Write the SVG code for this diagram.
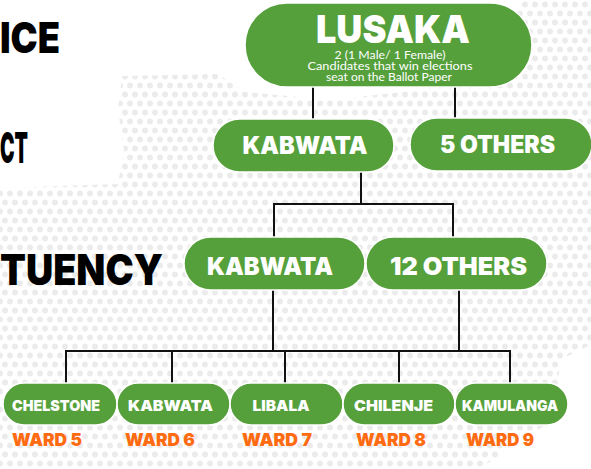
<svg xmlns="http://www.w3.org/2000/svg" width="591" height="469" viewBox="0 0 591 469">
<style>
.node{fill:#55a03b;stroke:#ffffff;stroke-width:1.5}
.t{font-family:Inter,Lato,"Liberation Sans",sans-serif;font-weight:900;fill:#ffffff;text-anchor:middle}
.sub{font-family:Lato,"Liberation Sans",sans-serif;font-weight:400;font-size:11.5px;fill:#ffffff;text-anchor:middle}
.lvl{font-family:Inter,Lato,"Liberation Sans",sans-serif;font-weight:900;font-size:42px;fill:#000000;text-anchor:end}
.ward{font-family:Inter,Lato,"Liberation Sans",sans-serif;font-weight:900;font-size:18px;fill:#ff6b11;text-anchor:middle}
.wt{font-size:15px}
.conn{fill:none;stroke:#111111;stroke-width:2}
</style>
<defs>
<pattern id="dots" width="10" height="18" patternUnits="userSpaceOnUse">
<circle cx="5" cy="4.5" r="2.9" fill="#ebebeb"/>
<circle cx="0" cy="13.5" r="2.9" fill="#ebebeb"/>
<circle cx="10" cy="13.5" r="2.9" fill="#ebebeb"/>
</pattern>
</defs>
<rect width="591" height="469" fill="#ffffff"/>
<g id="background">
<path fill="url(#dots)" d="M122,76 L218,74 L245,92 L330,100 L420,90 L480,50 L525,0 L591,0 L591,345 L560,360 L555,420 L520,440 L480,469 L0,469 L0,188 L118,184 L124,150 L118,110 Z"/>
</g>
<g id="level-labels">
<text class="lvl" x="60" y="53" textLength="60" lengthAdjust="spacingAndGlyphs">ICE</text>
<text class="lvl" x="28" y="163" textLength="28" lengthAdjust="spacingAndGlyphs">CT</text>
<text class="lvl" x="163" y="285" textLength="163" lengthAdjust="spacingAndGlyphs">TUENCY</text>
</g>
<g id="connectors">
<path class="conn" d="M313,87 V119 M455,87 V118"/>
<path class="conn" d="M361,172 V204 M274,204 H453 M274,203 V237 M453,203 V237"/>
<path class="conn" d="M273,290 V351 M459,290 V351 M66,351 H510 M66,350 V383 M172,350 V383 M285,350 V383 M399,350 V383 M510,350 V383"/>
</g>
<g id="node-lusaka">
<rect class="node" x="245" y="3" width="287" height="84" rx="42"/>
<text class="t" x="393" y="43" font-size="39" textLength="154" lengthAdjust="spacingAndGlyphs">LUSAKA</text>
<text class="sub"><tspan x="390" y="59" textLength="111" lengthAdjust="spacingAndGlyphs">2 (1 Male/ 1 Female)</tspan><tspan x="390" y="69.5" textLength="165" lengthAdjust="spacingAndGlyphs">Candidates that win elections</tspan><tspan x="389" y="80.5" textLength="126" lengthAdjust="spacingAndGlyphs">seat on the Ballot Paper</tspan></text>
</g>
<g id="node-district-kabwata">
<rect class="node" x="213" y="119" width="181" height="53" rx="26.5"/>
<text class="t" x="305" y="154" font-size="24" textLength="125" lengthAdjust="spacingAndGlyphs">KABWATA</text>
</g>
<g id="node-5-others">
<rect class="node" x="410" y="118" width="182" height="53" rx="26.5"/>
<text class="t" x="497.5" y="153" font-size="24" textLength="115" lengthAdjust="spacingAndGlyphs">5 OTHERS</text>
</g>
<g id="node-constituency-kabwata">
<rect class="node" x="184" y="237" width="181" height="53" rx="26.5"/>
<text class="t" x="270" y="275" font-size="25" textLength="126" lengthAdjust="spacingAndGlyphs">KABWATA</text>
</g>
<g id="node-12-others">
<rect class="node" x="366" y="237" width="181" height="53" rx="26.5"/>
<text class="t" x="458.5" y="275" font-size="25" textLength="137" lengthAdjust="spacingAndGlyphs">12 OTHERS</text>
</g>
<g id="node-chelstone">
<rect class="node" x="3" y="383" width="114" height="42" rx="21"/>
<text class="t wt" x="56" y="411" textLength="88" lengthAdjust="spacingAndGlyphs">CHELSTONE</text>
<text class="ward" x="47" y="446" textLength="70" lengthAdjust="spacingAndGlyphs">WARD 5</text>
</g>
<g id="node-kabwata-ward">
<rect class="node" x="117" y="383" width="113" height="42" rx="21"/>
<text class="t wt" x="170.5" y="411" textLength="85" lengthAdjust="spacingAndGlyphs">KABWATA</text>
<text class="ward" x="160" y="446" textLength="70" lengthAdjust="spacingAndGlyphs">WARD 6</text>
</g>
<g id="node-libala">
<rect class="node" x="230" y="383" width="113" height="42" rx="21"/>
<text class="t wt" x="281" y="411" textLength="57" lengthAdjust="spacingAndGlyphs">LIBALA</text>
<text class="ward" x="277" y="446" textLength="70" lengthAdjust="spacingAndGlyphs">WARD 7</text>
</g>
<g id="node-chilenje">
<rect class="node" x="343" y="383" width="112" height="42" rx="21"/>
<text class="t wt" x="393.5" y="411" textLength="79" lengthAdjust="spacingAndGlyphs">CHILENJE</text>
<text class="ward" x="391" y="446" textLength="70" lengthAdjust="spacingAndGlyphs">WARD 8</text>
</g>
<g id="node-kamulanga">
<rect class="node" x="455" y="383" width="113" height="42" rx="21"/>
<text class="t wt" x="510" y="411" textLength="96" lengthAdjust="spacingAndGlyphs">KAMULANGA</text>
<text class="ward" x="500" y="446" textLength="68" lengthAdjust="spacingAndGlyphs">WARD 9</text>
</g>
</svg>
